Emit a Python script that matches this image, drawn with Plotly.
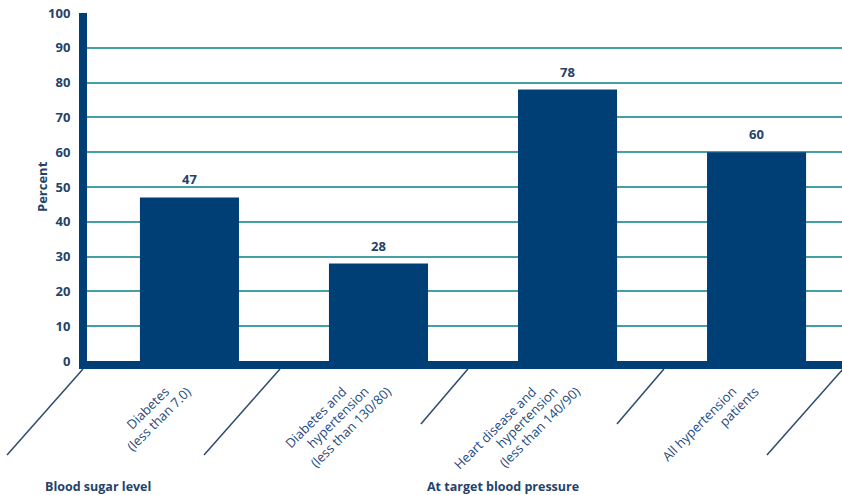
import plotly.graph_objects as go

# Share of patients reaching treatment targets
categories = [
    ["Diabetes", "(less than 7.0)"],
    ["Diabetes and", "hypertension", "(less than 130/80)"],
    ["Heart disease and", "hypertension", "(less than 140/90)"],
    ["All hypertension", "patients"],
]
percent = [47, 28, 78, 60]
y_ticks = [0, 10, 20, 30, 40, 50, 60, 70, 80, 90, 100]
group_labels = ["Blood sugar level", "At target blood pressure"]

NAVY = "#003f75"
TEAL = "#45a0a6"
TEXT = "#24426a"
LABEL = "#1d4a7c"
FONT = "Open Sans"

W, H = 842, 495
L, R, T, B = 87, 0, 13, 134
XMIN, XMAX = -0.542, 3.452

x_pos = list(range(len(categories)))

fig = go.Figure(
    go.Bar(
        x=x_pos,
        y=percent,
        width=0.524,
        marker=dict(color=NAVY, line=dict(width=0)),
        hoverinfo="skip",
    )
)

annotations = []
# value labels above each bar
for i, v in zip(x_pos, percent):
    annotations.append(dict(
        x=i, y=v, xref="x", yref="y", text=f"<b>{v}</b>", showarrow=False,
        yanchor="bottom", yshift=7,
        font=dict(family=FONT, size=13, color=TEXT),
    ))

# rotated category labels: every line ends on the same height, each
# following line stepping to the right
LINE_STEP = 22
for i, lines in zip(x_pos, categories):
    n = len(lines)
    for k, line in enumerate(lines):
        annotations.append(dict(
            x=i, y=0, xref="x", yref="paper", text=line, showarrow=False,
            textangle=-45, xanchor="right", yanchor="top",
            xshift=-3 + (k - (n - 1) / 2) * LINE_STEP, yshift=-19,
            font=dict(family=FONT, size=13, color=LABEL),
        ))

# group captions
for xp, txt in zip([-0.058, 0.448], group_labels):
    annotations.append(dict(
        x=xp, y=-0.362, xref="paper", yref="paper", text=f"<b>{txt}</b>",
        showarrow=False, xanchor="left", yanchor="middle",
        font=dict(family=FONT, size=12.5, color=TEXT),
    ))
# y-axis title
annotations.append(dict(
    x=-0.0596, y=0.5, xref="paper", yref="paper", text="<b>Percent</b>",
    showarrow=False, textangle=-90, xanchor="center", yanchor="middle",
    font=dict(family=FONT, size=13, color=TEXT),
))

# diagonal separators between the category labels
sep_x = [-0.563, 0.479, 1.473, 2.51, 3.457]
sep_len = [(-76, -94), (-76, -94), (-47, -63), (-47, -63), (-76, -94)]
shapes = []
for sx, (dx, dy) in zip(sep_x, sep_len):
    shapes.append(dict(
        type="line", xref="paper", yref="paper",
        xsizemode="pixel", ysizemode="pixel",
        xanchor=(sx - XMIN) / (XMAX - XMIN), yanchor=0,
        x0=0, x1=dx, y0=-8, y1=dy,
        line=dict(color="#2c4a6e", width=1.5),
    ))

fig.update_layout(
    width=W, height=H,
    margin=dict(l=L, r=R, t=T, b=B, pad=0),
    paper_bgcolor="white", plot_bgcolor="white",
    showlegend=False,
    font=dict(family=FONT, color=TEXT),
    annotations=annotations,
    shapes=shapes,
    xaxis=dict(
        range=[XMIN, XMAX], showticklabels=False, showgrid=False,
        zeroline=False, showline=True, linewidth=8, linecolor=NAVY,
        ticks="", fixedrange=True,
    ),
    yaxis=dict(
        range=[0, 100], tickvals=y_ticks, ticktext=[f"<b>{t}</b>" for t in y_ticks],
        showgrid=True, gridcolor=TEAL, gridwidth=1.5,
        zeroline=False, showline=True, linewidth=8, linecolor=NAVY,
        ticks="", ticklabelstandoff=6,
        tickfont=dict(family=FONT, size=13, color=TEXT),
        fixedrange=True,
    ),
)

fig.write_html("out.html")
